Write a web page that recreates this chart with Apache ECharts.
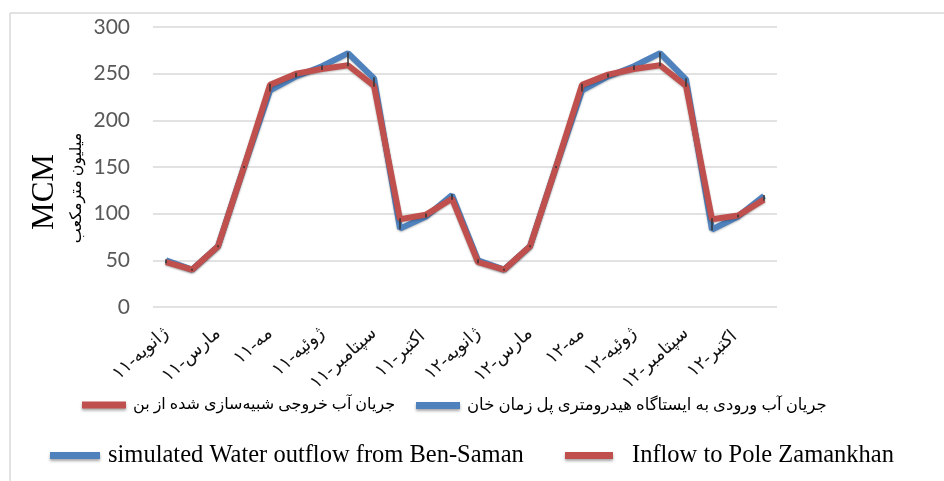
<!DOCTYPE html>
<html>
<head>
<meta charset="utf-8">
<title>MCM chart</title>
<script src="https://cdn.jsdelivr.net/npm/echarts@6/dist/echarts.min.js"></script>
<style>
  html, body { margin: 0; padding: 0; background: #fff; }
  #main { width: 944px; height: 481px; }
</style>
</head>
<body>
<div id="main"></div>
<script type="text/javascript">
// categories (month-year), only every other label is shown
var months = [
  'ژانویه-۱۱', 'فوریه-۱۱', 'مارس-۱۱', 'آوریل-۱۱', 'مه-۱۱', 'ژوئن-۱۱',
  'ژوئیه-۱۱', 'اوت-۱۱', 'سپتامبر-۱۱', 'اکتبر-۱۱', 'اکتبر-۱۱ ', 'دسامبر-۱۱',
  'ژانویه-۱۲', 'فوریه-۱۲', 'مارس-۱۲', 'آوریل-۱۲', 'مه-۱۲', 'ژوئن-۱۲',
  'ژوئیه-۱۲', 'اوت-۱۲', 'سپتامبر-۱۲', 'اکتبر-۱۲', 'اکتبر-۱۲ ', 'دسامبر-۱۲'
];

// simulated outflow from Ben-Saman (blue)
var simulated = [50, 40, 65, 150, 232, 247, 258, 272, 245, 84, 97, 120,
                 50, 40, 65, 150, 232, 247, 258, 272, 244, 83, 97, 119];
// inflow to Pole Zamankhan (red)
var inflow = [48, 40, 65, 150, 238, 250, 255, 259, 237, 94, 99, 116,
              48, 40, 65, 150, 238, 249, 255, 259, 237, 94, 98, 115];

var yTicks = [0, 50, 100, 150, 200, 250, 300];

var nameSim = 'جریان آب خروجی شبیه‌سازی شده از بن';
var nameIn = 'جریان آب ورودی به ایستاگاه هیدرومتری پل زمان خان';

var blue = '#4F81BD';
var red = '#C0504D';
var faFont = "'Liberation Serif', 'DejaVu Sans', serif";
var iconShadow = { shadowBlur: 3, shadowColor: 'rgba(0,0,0,0.35)', shadowOffsetY: 2 };

function legendBox(left, top, name, color, label, size, gap) {
  return {
    left: left, top: top, padding: 0, itemGap: 0,
    icon: 'rect', itemWidth: 44, itemHeight: 7,
    selectedMode: false,
    data: [{ name: name, itemStyle: Object.assign({ color: color }, iconShadow) }],
    formatter: function () { return label; },
    textStyle: { color: '#000', fontSize: size, fontFamily: faFont, padding: [0, 0, 0, gap || 2] }
  };
}

var myChart = echarts.init(document.getElementById('main'));

var option = {
  backgroundColor: '#fff',
  animation: false,
  graphic: [
    { type: 'line', shape: { x1: 10, y1: 13, x2: 944, y2: 13 }, style: { stroke: '#d9d9d9', lineWidth: 1.5 } },
    { type: 'line', shape: { x1: 10, y1: 13, x2: 10, y2: 481 }, style: { stroke: '#d9d9d9', lineWidth: 1.5 } },
    // y axis title
    {
      type: 'text', x: 45, y: 192, rotation: Math.PI / 2,
      style: { text: 'MCM', font: "31px 'Liberation Serif', serif", fill: '#000', align: 'center', verticalAlign: 'middle' }
    },
    {
      type: 'text', x: 77, y: 188, rotation: Math.PI / 2,
      style: { text: 'میلیون مترمکعب', font: "16px " + faFont, fill: '#000', align: 'center', verticalAlign: 'middle' }
    }
  ],
  grid: { left: 153, right: 167, top: 27, bottom: 174 },
  legend: [
    legendBox(82, 397, nameSim, red, nameSim, 16),
    legendBox(416, 397, nameIn, blue, nameIn, 16.5),
    Object.assign(legendBox(50, 443, nameSim, blue, 'simulated Water outflow from Ben-Saman', 24.5, 3), { itemWidth: 50 }),
    Object.assign(legendBox(565, 443, nameIn, red, 'Inflow to Pole Zamankhan', 24.5, 14), { itemWidth: 48 })
  ],
  xAxis: {
    type: 'category',
    data: months,
    boundaryGap: true,
    axisLine: { show: false },
    axisTick: { show: false },
    axisLabel: {
      interval: 1,
      rotate: 42,
      margin: 24,
      color: '#111',
      fontSize: 18,
      fontFamily: faFont
    }
  },
  yAxis: {
    type: 'value',
    min: yTicks[0],
    max: yTicks[yTicks.length - 1],
    interval: 50,
    axisLine: { show: false },
    axisTick: { show: false },
    axisLabel: { color: '#595959', fontSize: 21, fontFamily: 'Lato, sans-serif', margin: 23 },
    splitLine: { lineStyle: { color: '#d9d9d9', width: 1.5 } }
  },
  series: [
    {
      name: nameSim,
      type: 'line',
      data: simulated,
      symbol: 'none',
      color: blue,
      lineStyle: { color: blue, width: 6, shadowBlur: 2, shadowColor: 'rgba(0,0,0,0.25)', shadowOffsetY: 1 },
      z: 2
    },
    {
      name: nameIn,
      type: 'line',
      data: inflow,
      symbol: 'none',
      color: red,
      lineStyle: { color: red, width: 6, shadowBlur: 2, shadowColor: 'rgba(0,0,0,0.25)', shadowOffsetY: 1 },
      z: 3
    },
    {
      // high-low lines between the two series
      name: 'hilo',
      type: 'custom',
      data: simulated.map(function (v, i) { return [i, v, inflow[i]]; }),
      encode: { x: 0, y: [1, 2] },
      z: 4,
      renderItem: function (params, api) {
        var p1 = api.coord([api.value(0), api.value(1)]);
        var p2 = api.coord([api.value(0), api.value(2)]);
        var y1 = Math.min(p1[1], p2[1]) - 1, y2 = Math.max(p1[1], p2[1]) + 1;
        return {
          type: 'line',
          shape: { x1: p1[0], y1: y1, x2: p1[0], y2: y2 },
          style: { stroke: '#333', lineWidth: 1.5 }
        };
      }
    }
  ]
};

myChart.setOption(option);
</script>
</body>
</html>
